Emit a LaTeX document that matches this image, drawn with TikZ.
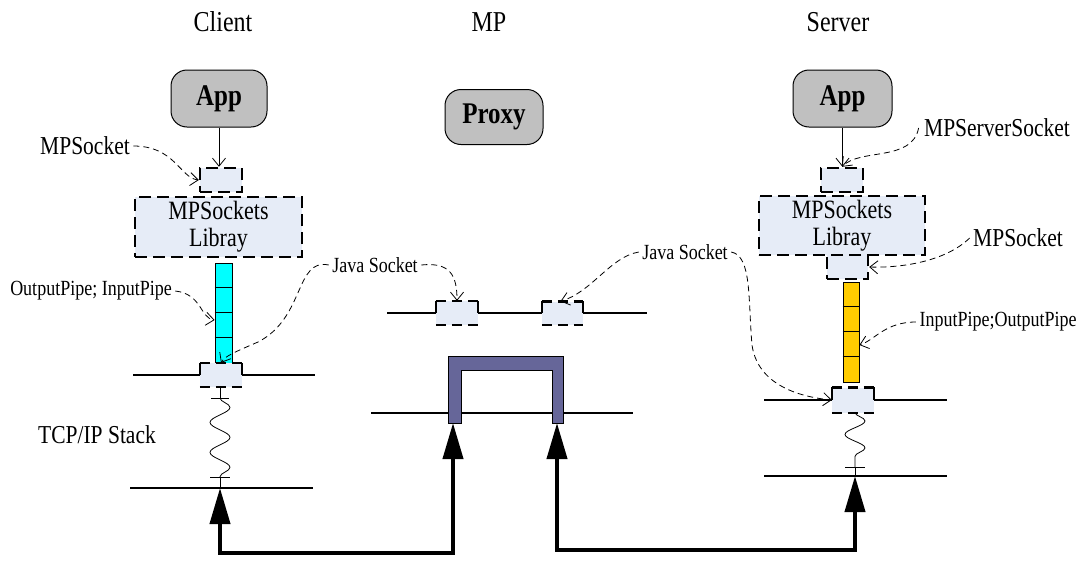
\documentclass[tikz,border=0pt]{standalone}
\usepackage{fontspec}
\setmainfont{Liberation Serif}
\usetikzlibrary{arrows.meta,decorations.pathmorphing}

\definecolor{sockfill}{HTML}{E6ECF7}
\definecolor{appfill}{HTML}{C0C0C0}
\definecolor{proxyfill}{HTML}{666699}
\definecolor{pipecyan}{HTML}{00FFFF}
\definecolor{pipegold}{HTML}{FFCC00}

\newcommand{\fs}[1]{\fontsize{#1}{#1}\selectfont}
% text is set slightly taller than wide
\newcommand{\tall}[1]{\scalebox{1}[1.2]{#1}}

\tikzset{
  appbox/.style={draw, line width=1pt, fill=appfill, rounded corners=16pt,
    font=\fs{25}\bfseries, inner sep=0pt},
  dashbox/.style={draw, line width=2.4pt, dash pattern=on 12pt off 6pt,
    fill=sockfill, inner sep=0pt},
  sockbox/.style={fill=sockfill, inner sep=0pt},
  sockedge/.style={line width=2.4pt, dash pattern=on 10pt off 6pt},
  sockside/.style={line width=2.4pt},
  pipebox/.style={draw, line width=0.8pt, inner sep=0pt},
  netline/.style={line width=2pt},
  callout/.style={line width=0.8pt, dash pattern=on 6pt off 4pt,
    -{Straight Barb[length=8pt,width=13pt,line width=0.8pt]}},
  plainarrow/.style={line width=0.8pt,
    -{Straight Barb[length=8pt,width=13pt,line width=0.8pt]}},
  bigarrow/.style={line width=4pt,
    {Triangle[length=36pt,width=20pt]}-{Triangle[length=36pt,width=20pt]}},
  wave/.style={line width=0.8pt, decorate,
    decoration={snake, amplitude=10pt, segment length=30pt}},
  title/.style={font=\fs{24}},
  label/.style={font=\fs{21.5}},
  small/.style={font=\fs{18}},
}

\begin{document}
\begin{tikzpicture}[x=1pt,y=-1pt]
\useasboundingbox (0,0) rectangle (1087,560);

% ---------- column titles ----------
\node[title] (tclient) at (223,22) {\tall{Client}};
\node[title] (tmp) at (489,22) {\tall{MP}};
\node[title] (tserver) at (838,22) {\tall{Server}};

% ---------- client side ----------
\node[appbox, minimum width=96pt, minimum height=57pt] (capp) at (219,98.5) {\tall{App}};
\node[dashbox, minimum width=42pt, minimum height=24pt] (cms) at (221,180) {};
\node[dashbox, minimum width=167pt, minimum height=60pt, align=center,
      font=\fs{22}] (clib) at (218.5,227) {\tall{MPSockets}\\[5pt]\tall{Libray}};
\node[pipebox, fill=pipecyan, minimum width=17pt, minimum height=100pt] (cpipe) at (223.5,313) {};
\foreach \k in {1,2,3}
  \draw[line width=0.8pt] ([yshift=-25*\k pt]cpipe.north west) -- ([yshift=-25*\k pt]cpipe.north east);
\draw[plainarrow] (capp.south) -- (capp.south |- cms.north);

% client network lines
\node[sockbox, minimum width=42pt, minimum height=24pt] (cjs) at (221,375) {};
\coordinate (cl1a) at (133,375);
\coordinate (cl1b) at (315,375);
\coordinate (cl2a) at (130,488);
\coordinate (cl2b) at (313,488);
\coordinate (cstk) at (220,488);
\draw[netline] (cl1a) -- (cjs.west);
\draw[netline] (cjs.east) -- (cl1b);
\draw[netline] (cl2a) -- (cl2b);
\draw[sockedge] (cjs.north west) -- (cjs.north east);
\draw[sockedge] (cjs.south west) -- (cjs.south east);
\draw[sockside] (cjs.north west) -- (cjs.west);
\draw[sockside] (cjs.north east) -- (cjs.east);

% client protocol stack
\coordinate (cw0) at (220,387);
\coordinate (cw1) at (220,398);
\coordinate (cw2) at (220,477);
\draw[line width=0.8pt] (cw0) -- (cw1);
\draw[line width=0.8pt] ([xshift=-9pt]cw1) -- ([xshift=9pt]cw1);
\draw[wave] (cw1) -- (cw2);
\draw[line width=0.8pt] ([xshift=-10pt]cw2) -- ([xshift=10pt]cw2);
\draw[line width=0.8pt] (cw2) -- (cstk);

\node[label] (lcms) at (85,146) {\tall{MPSocket}};
\node[small] (lcpipe) at (91,291) {\tall{OutputPipe; InputPipe}};
\node[small] (lcjs) at (375,265) {\tall{Java Socket}};
\node[label] (ltcp) at (97,435) {\tall{TCP/IP Stack}};

\draw[callout] (lcms.east) .. controls (175,146) and (180,178) .. (cms.west);
\draw[callout] (lcpipe.east) .. controls (202,294) and (200,318) .. ([yshift=-7pt]cpipe.west);
\draw[callout] (lcjs.west) .. controls (295,258) and (305,318) .. (258,342)
  .. controls (235,352) and (225,356) .. (cjs.north);

% ---------- MP side ----------
\node[appbox, minimum width=98pt, minimum height=55pt] (proxy) at (494,117) {\tall{Proxy}};
\coordinate (ml1a) at (387,313);
\coordinate (ml1b) at (647,313);
\node[sockbox, minimum width=42pt, minimum height=24pt] (mjs1) at (457,313) {};
\node[sockbox, minimum width=41pt, minimum height=23pt] (mjs2) at (562.5,313) {};
\draw[netline] (ml1a) -- (mjs1.west);
\draw[netline] (mjs1.east) -- (mjs2.west);
\draw[netline] (mjs2.east) -- (ml1b);
\foreach \s in {mjs1,mjs2} {
  \draw[sockedge] (\s.north west) -- (\s.north east);
  \draw[sockedge] (\s.south west) -- (\s.south east);
  \draw[sockside] (\s.north west) -- (\s.west);
  \draw[sockside] (\s.north east) -- (\s.east);
}
\coordinate (ml2a) at (371,413);
\coordinate (ml2b) at (633,413);
\draw[netline] (ml2a) -- (ml2b);
% proxy relay
\draw[line width=1pt, fill=proxyfill]
  (448,356) -- (563,356) -- (563,423) -- (552,423) -- (552,370)
  -- (461,370) -- (461,423) -- (448,423) -- cycle;
\coordinate (pleft) at (453,423);
\coordinate (pright) at (557,423);

\node[small] (lmjs) at (685,252) {\tall{Java Socket}};
\draw[callout] (lcjs.east) .. controls (450,262) and (457,275) .. (mjs1.north);
\draw[callout] (lmjs.west) .. controls (610,257) and (592,292) .. ([xshift=-2pt]mjs2.north);

% ---------- server side ----------
\node[appbox, minimum width=99pt, minimum height=57pt] (sapp) at (842.5,98.5) {\tall{App}};
\node[dashbox, minimum width=42pt, minimum height=24pt] (sss) at (842,180) {};
\node[dashbox, minimum width=166pt, minimum height=59pt, align=center,
      font=\fs{22}] (slib) at (842,225.5) {\tall{MPSockets}\\[5pt]\tall{Libray}};
\node[dashbox, minimum width=41pt, minimum height=24pt] (sms) at (847.5,267) {};
\node[pipebox, fill=pipegold, minimum width=16pt, minimum height=100pt] (spipe) at (851,332) {};
\foreach \k in {1,2,3}
  \draw[line width=0.8pt] ([yshift=-25*\k pt]spipe.north west) -- ([yshift=-25*\k pt]spipe.north east);
\draw[plainarrow] (sapp.south) -- (sapp.south |- sss.north);

\node[sockbox, minimum width=42pt, minimum height=25pt] (sjs) at (853,400) {};
\coordinate (sl1a) at (764,400);
\coordinate (sl1b) at (947,400);
\coordinate (sl2a) at (764,476);
\coordinate (sl2b) at (947,476);
\coordinate (sstk) at (855,476);
\draw[netline] (sl1a) -- (sjs.west);
\draw[netline] (sjs.east) -- (sl1b);
\draw[netline] (sl2a) -- (sl2b);
\draw[sockedge] (sjs.north west) -- (sjs.north east);
\draw[sockedge] (sjs.south west) -- (sjs.south east);
\draw[sockside] (sjs.north west) -- (sjs.west);
\draw[sockside] (sjs.north east) -- (sjs.east);

\coordinate (sw1) at (855,412.5);
\coordinate (sw2) at (855,467);
\draw[wave, decoration={snake, amplitude=10pt, segment length=27pt}] (sw1) -- (sw2);
\draw[line width=0.8pt] ([xshift=-10pt]sw2) -- ([xshift=10pt]sw2);
\draw[line width=0.8pt] (sw2) -- (sstk);

\node[label] (lsss) at (997,128) {\tall{MPServerSocket}};
\node[label] (lsms) at (1018,238) {\tall{MPSocket}};
\node[small] (lspipe) at (998,322) {\tall{InputPipe;OutputPipe}};

\draw[callout] ([xshift=-2pt]lsss.west) .. controls (912,162) and (860,148) .. (sss.north);
\draw[callout] (lsms.west) .. controls (945,262) and (900,268) .. (sms.east);
\draw[callout] (lspipe.west) .. controls (885,322) and (875,340) .. ([yshift=-13pt]spipe.east);
\draw[callout] (lmjs.east) .. controls (752,256) and (748,300) .. (752,345)
  .. controls (757,380) and (790,396) .. (sjs.west);

% ---------- physical links ----------
\draw[bigarrow] (cstk) -- (220,553) -- (453,553) -- (pleft);
\draw[bigarrow] (pright) -- (557,550) -- (855,550) -- (sstk);

\end{tikzpicture}
\end{document}
